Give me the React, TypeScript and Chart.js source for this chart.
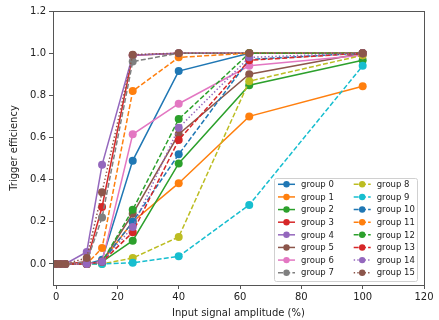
import { useEffect, useRef } from "react";
import { Chart, registerables } from "chart.js";

Chart.register(...registerables);

// ---- data ----
const amplitudes = [0, 1.5, 3, 10, 15, 25, 40, 63, 100];

const group0 = [0, 0, 0, 0, 0.02, 0.49, 0.915, 1.0, 1.0];
const group1 = [0, 0, 0, 0, 0.01, 0.2, 0.383, 0.7, 0.843];
const group2 = [0, 0, 0, 0, 0.01, 0.11, 0.477, 0.848, 0.966];
const group3 = [0, 0, 0, 0.01, 0.27, 0.99, 1.0, 1.0, 1.0];
const group4 = [0, 0, 0, 0.057, 0.47, 0.99, 1.0, 1.0, 1.0];
const group5 = [0, 0, 0, 0, 0.01, 0.238, 0.615, 0.9, 1.0];
const group6 = [0, 0, 0, 0, 0.01, 0.615, 0.76, 0.94, 0.99];
const group7 = [0, 0, 0, 0.01, 0.22, 0.96, 1.0, 1.0, 1.0];
const group8 = [0, 0, 0, 0, 0, 0.028, 0.128, 0.867, 0.99];
const group9 = [0, 0, 0, 0, 0, 0.005, 0.036, 0.28, 0.94];
const group10 = [0, 0, 0, 0, 0.01, 0.2, 0.52, 0.97, 1.0];
const group11 = [0, 0, 0, 0, 0.075, 0.82, 0.98, 1.0, 1.0];
const group12 = [0, 0, 0, 0, 0.01, 0.257, 0.687, 1.0, 1.0];
const group13 = [0, 0, 0, 0, 0.01, 0.15, 0.588, 0.966, 1.0];
const group14 = [0, 0, 0, 0, 0.01, 0.175, 0.646, 0.98, 1.0];
const group15 = [0, 0, 0, 0.028, 0.34, 0.993, 1.0, 1.0, 1.0];

const groupValues = [
  group0, group1, group2, group3, group4, group5, group6, group7,
  group8, group9, group10, group11, group12, group13, group14, group15,
];
const groupNames = groupValues.map((_, i) => `group ${i}`);

const xTicks = [0, 20, 40, 60, 80, 100, 120];
const yTicks = [0, 0.2, 0.4, 0.6, 0.8, 1.0, 1.2];

// ---- styles ----
const palette = [
  "#1f77b4", "#ff7f0e", "#2ca02c", "#d62728", "#9467bd",
  "#8c564b", "#e377c2", "#7f7f7f", "#bcbd22", "#17becf",
];
const DASHED = [5, 2.2];
const DOTTED = [1.4, 2.2];
const lineDash = (i: number) => (i < 7 ? [] : i < 14 ? DASHED : DOTTED);
const FONT = '"DejaVu Sans", sans-serif';

const framePlugin = {
  id: "frame",
  afterDatasetsDraw(chart: any) {
    const { ctx, chartArea: a } = chart;
    ctx.save();
    ctx.strokeStyle = "#555";
    ctx.lineWidth = 1;
    ctx.strokeRect(Math.round(a.left) + 0.5, Math.round(a.top) + 0.5, Math.round(a.right - a.left), Math.round(a.bottom - a.top));
    ctx.restore();
  },
};

const legendPlugin = {
  id: "insideLegend",
  afterDraw(chart: any) {
    const { ctx, chartArea: a } = chart;
    const datasets = chart.data.datasets;
    const boxRight = a.right - 7;
    const boxBottom = a.bottom - 4;
    const boxW = 143;
    const boxH = 103;
    const bx = boxRight - boxW;
    const by = boxBottom - boxH;
    ctx.save();
    ctx.beginPath();
    if (ctx.roundRect) ctx.roundRect(bx + 0.5, by + 0.5, boxW, boxH, 2);
    else ctx.rect(bx + 0.5, by + 0.5, boxW, boxH);
    ctx.fillStyle = "rgba(255,255,255,0.85)";
    ctx.fill();
    ctx.strokeStyle = "#d0d0d0";
    ctx.lineWidth = 1;
    ctx.stroke();

    const rowH = 12.63;
    const colW = 75.7;
    ctx.font = `8.5px ${FONT}`;
    ctx.textBaseline = "middle";
    ctx.textAlign = "left";
    datasets.forEach((ds: any, i: number) => {
      const col = Math.floor(i / 8);
      const row = i % 8;
      const x0 = bx + 4 + col * colW;
      const y = by + 6.3 + row * rowH;
      ctx.strokeStyle = ds.borderColor;
      ctx.lineWidth = 1.5;
      ctx.setLineDash(ds.borderDash || []);
      ctx.beginPath();
      ctx.moveTo(x0, y);
      ctx.lineTo(x0 + 17, y);
      ctx.stroke();
      ctx.setLineDash([]);
      ctx.fillStyle = ds.backgroundColor;
      ctx.beginPath();
      ctx.arc(x0 + 8.5, y, 3.2, 0, Math.PI * 2);
      ctx.fill();
      ctx.fillStyle = "#222";
      ctx.fillText(ds.label, x0 + 23, y + 0.5);
    });
    ctx.restore();
  },
};

export default function App() {
  const ref = useRef<HTMLCanvasElement | null>(null);

  useEffect(() => {
    if (!ref.current) return;
    const datasets = groupValues.map((vals, i) => {
      const color = palette[i % 10];
      return {
        label: groupNames[i],
        data: vals.map((v, k) => ({ x: amplitudes[k], y: v })),
        borderColor: color,
        backgroundColor: color,
        borderWidth: 1.5,
        borderDash: lineDash(i),
        pointRadius: 4,
        pointBorderWidth: 0,
        pointHoverRadius: 4,
        pointBackgroundColor: color,
        tension: 0,
        fill: false,
        order: groupValues.length - i,
      };
    });

    const tickFont = { family: FONT, size: 10 };
    const chart = new Chart(ref.current, {
      type: "line",
      data: { datasets },
      plugins: [framePlugin, legendPlugin],
      options: {
        animation: false,
        responsive: false,
        layout: { padding: { left: 0, top: 11, right: 15, bottom: 0 } },
        plugins: {
          legend: { display: false },
          tooltip: { enabled: false },
        },
        scales: {
          x: {
            type: "linear",
            min: -1,
            max: 120,
            afterBuildTicks: (s: any) => {
              s.ticks = xTicks.map((v) => ({ value: v }));
            },
            afterFit: (s: any) => {
              s.height = 35;
            },
            border: { display: false },
            grid: { display: true, drawOnChartArea: false, drawTicks: true, tickLength: 4, color: "#555" },
            ticks: { font: tickFont, color: "#222", padding: 2, maxRotation: 0, autoSkip: false, callback: (v: any) => String(v) },
            title: { display: true, text: "Input signal amplitude (%)", font: tickFont, color: "#222", padding: { top: 0, bottom: 1 } },
          },
          y: {
            type: "linear",
            min: -0.1,
            max: 1.2,
            afterBuildTicks: (s: any) => {
              s.ticks = yTicks.map((v) => ({ value: v }));
            },
            afterFit: (s: any) => {
              s.width = 53;
            },
            border: { display: false },
            grid: { display: true, drawOnChartArea: false, drawTicks: true, tickLength: 4, color: "#555" },
            ticks: { font: tickFont, color: "#222", padding: 3, autoSkip: false, callback: (v: any) => Number(v).toFixed(1) },
            title: { display: true, text: "Trigger efficiency", font: tickFont, color: "#222", padding: { top: 8, bottom: 0 } },
          },
        },
      },
    } as any);
    return () => chart.destroy();
  }, []);

  return (
    <div style={{ position: "fixed", left: 0, top: 0, width: 439, height: 320, background: "#fff" }}>
      <canvas ref={ref} width={439} height={320} style={{ display: "block", width: 439, height: 320 }} />
    </div>
  );
}
